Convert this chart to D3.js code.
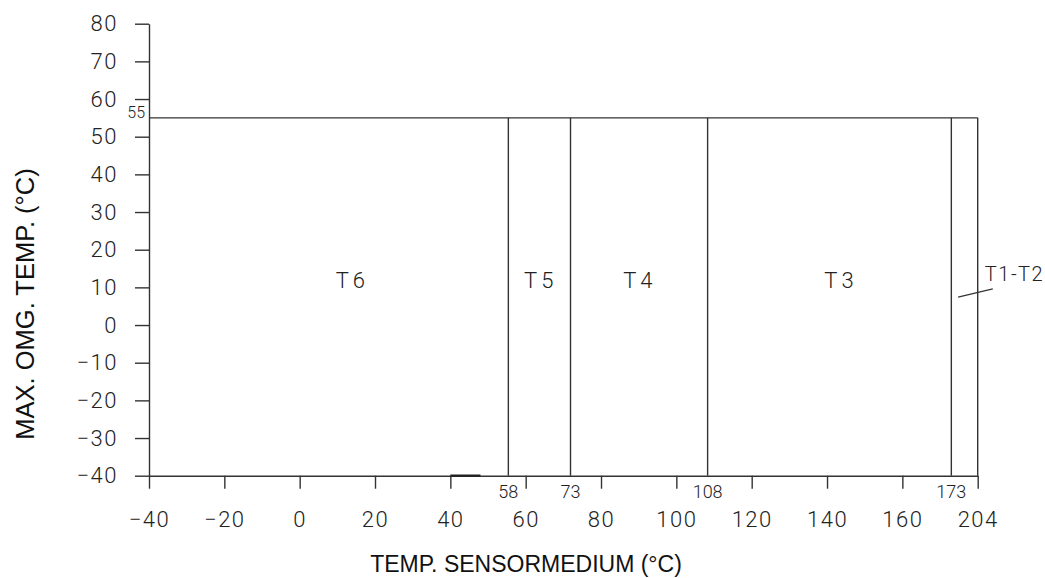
<!DOCTYPE html>
<html>
<head>
<meta charset="utf-8">
<script src="https://cdn.jsdelivr.net/npm/d3@7"></script>
<style>
  body { margin: 0; background: #fff; }
  .num { font-family: Roboto, "Open Sans", sans-serif; font-weight: 300; fill: #222; }
  .title { font-family: "Liberation Sans", Arial, sans-serif; fill: #111; }
</style>
</head>
<body>
<script>
// temperature classes: where each zone ends on the x axis (as drawn) and its printed value
var zoneNames = ["T6", "T5", "T4", "T3"];
var zoneEnds = [55.4, 71.9, 108.3, 173, 180];
var zoneEndLabels = ["58", "73", "108", "173"];
var zoneLabelX = [14, 64, 90.3, 143.7];
var zoneLabelY = 12;
var maxAmbient = 55;
var lastZone = { name: "T1-T2", x: 181.9, y: 13.6, leader: [[174.8, 7.4], [184, 9.6]] };
var axisMark = [40, 48];

var xTicks = [-40, -20, 0, 20, 40, 60, 80, 100, 120, 140, 160, 180];
var xTickLabels = ["\u221240", "\u221220", "0", "20", "40", "60", "80", "100", "120", "140", "160", "204"];
var yTicks = [-40, -30, -20, -10, 0, 10, 20, 30, 40, 50, 60, 70, 80];

var width = 1045, height = 578;
var ink = "#333";

var svg = d3.select("body").append("svg")
    .attr("width", width)
    .attr("height", height);

var x = d3.scaleLinear().domain([-40, 180]).range([149, 977.7]);
var y = d3.scaleLinear().domain([-40, 80]).range([475.7, 23.7]);

// y axis
var gy = svg.append("g")
    .attr("transform", "translate(" + x(-40) + ",0)")
    .call(d3.axisLeft(y).tickValues(yTicks).tickSize(14).tickSizeOuter(0).tickPadding(17)
        .tickFormat(function(d) { return d < 0 ? "\u2212" + Math.abs(d) : d; }));
gy.attr("font-family", null).attr("font-size", null);
gy.selectAll("text").attr("class", "num").style("font-size", "22px").style("letter-spacing", "1.5px");

// x axis
var gx = svg.append("g")
    .attr("transform", "translate(0," + y(-40) + ")")
    .call(d3.axisBottom(x).tickValues(xTicks).tickSize(13).tickSizeOuter(0).tickPadding(23)
        .tickFormat(function(d, i) { return xTickLabels[i]; }));
gx.attr("font-family", null).attr("font-size", null);
gx.selectAll("text").attr("class", "num").style("font-size", "22px").style("letter-spacing", "1.5px");

svg.selectAll(".domain, .tick line").attr("stroke", ink).attr("stroke-width", 1.4);

// box top at max ambient temperature
svg.append("line")
    .attr("x1", x(-40)).attr("x2", x(180))
    .attr("y1", y(maxAmbient)).attr("y2", y(maxAmbient))
    .attr("stroke", ink).attr("stroke-width", 1.4);

svg.append("text").attr("class", "num")
    .attr("x", x(-40) - 4).attr("y", y(maxAmbient))
    .attr("text-anchor", "end")
    .style("font-size", "16px")
    .text(maxAmbient);

// zone borders
svg.selectAll(".border").data(zoneEnds).enter().append("line")
    .attr("class", "border")
    .attr("x1", function(d) { return x(d); }).attr("x2", function(d) { return x(d); })
    .attr("y1", y(maxAmbient)).attr("y2", y(-40))
    .attr("stroke", ink).attr("stroke-width", 1.4);

svg.selectAll(".endlabel").data(zoneEndLabels).enter().append("text")
    .attr("class", "num endlabel")
    .attr("x", function(d, i) { return x(zoneEnds[i]); })
    .attr("y", 498)
    .attr("text-anchor", "middle")
    .style("font-size", "18px")
    .text(function(d) { return d; });

// zone names
svg.selectAll(".zone").data(zoneNames).enter().append("text")
    .attr("class", "num zone")
    .attr("x", function(d, i) { return x(zoneLabelX[i]); })
    .attr("y", y(zoneLabelY))
    .attr("dy", "0.36em")
    .attr("text-anchor", "middle")
    .style("font-size", "22px").style("letter-spacing", "4px")
    .text(function(d) { return d; });

svg.append("line")
    .attr("x1", x(lastZone.leader[0][0])).attr("y1", y(lastZone.leader[0][1]))
    .attr("x2", x(lastZone.leader[1][0])).attr("y2", y(lastZone.leader[1][1]))
    .attr("stroke", ink).attr("stroke-width", 1.2);

svg.append("text").attr("class", "num")
    .attr("x", x(lastZone.x)).attr("y", y(lastZone.y))
    .attr("dy", "0.36em")
    .style("font-size", "20px").style("letter-spacing", "1.5px")
    .text(lastZone.name);

// short heavier stroke on the bottom edge
svg.append("line")
    .attr("x1", x(axisMark[0])).attr("x2", x(axisMark[1]))
    .attr("y1", y(-40)).attr("y2", y(-40))
    .attr("stroke", "#222").attr("stroke-width", 2.4);

// axis titles
svg.append("text").attr("class", "title")
    .attr("x", 526).attr("y", 564)
    .attr("dy", "0.36em")
    .attr("text-anchor", "middle")
    .style("font-size", "23px")
    .text("TEMP. SENSORMEDIUM (\u00B0C)");

svg.append("text").attr("class", "title")
    .attr("transform", "translate(25,304) rotate(-90)")
    .attr("dy", "0.36em")
    .attr("text-anchor", "middle")
    .style("font-size", "25.5px")
    .text("MAX. OMG. TEMP. (\u00B0C)");
</script>
</body>
</html>
